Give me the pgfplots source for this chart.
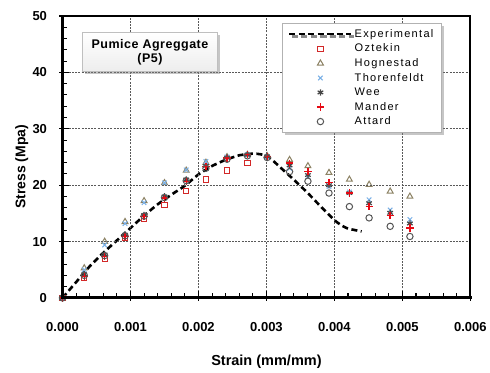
\documentclass[border=0pt]{standalone}
\usepackage{fontspec}
\setmainfont{Liberation Sans}
\usepackage{pgfplots}
\pgfplotsset{compat=1.18}
\usetikzlibrary{shadows}
\definecolor{ozred}{RGB}{210,40,40}
\definecolor{hogcol}{RGB}{140,130,100}
\definecolor{thocol}{RGB}{120,175,230}
\definecolor{weecol}{RGB}{70,70,70}
\definecolor{mancol}{RGB}{230,10,20}
\definecolor{attcol}{RGB}{85,85,85}
\tikzset{gridln/.style={black!65, line width=1pt, dash pattern=on 2pt off 1.2pt},
  tickln/.style={black, line width=1.1pt}}
\begin{document}
\begin{tikzpicture}
\begin{axis}[
  scale only axis, width=408pt, height=282pt,
  xmin=0, xmax=0.006, ymin=0, ymax=50,
  clip mode=individual,
  axis on top,
  xtick={0,0.001,0.002,0.003,0.004,0.005,0.006},
  xticklabels={0.000,0.001,0.002,0.003,0.004,0.005,0.006},
  ytick={0,10,20,30,40,50},
  yticklabels={0,10,20,30,40,50},
  scaled x ticks=false,
  xtick style={draw=none}, ytick style={draw=none},
  ticklabel style={font=\bfseries\fontsize{13}{13}\selectfont},
  xticklabel style={yshift=-21pt}, yticklabel style={xshift=-12pt},
  axis line style={line width=2pt},
  xlabel={Strain (mm/mm)},
  xlabel style={at={(axis description cs:0.5,-0.227)}, anchor=center, font=\bfseries\fontsize{14.5}{15}\selectfont},
  ylabel={Stress (Mpa)},
  ylabel style={at={(axis description cs:-0.1,0.465)}, anchor=center, font=\bfseries\fontsize{14}{15}\selectfont},
  legend image code/.code={\draw[mark repeat=2,mark phase=2,#1] plot coordinates {(0pt,0pt) (31pt,0pt) (62pt,0pt)};},
  legend style={at={(0.538,0.975)}, anchor=north west, draw=gray!60, fill=white,
    drop shadow={shadow xshift=2.5pt, shadow yshift=-2.5pt, opacity=0.45},
    font=\fontsize{11}{12}\selectfont\addfontfeatures{LetterSpace=12}, row sep=1.2pt, inner xsep=6pt, inner ysep=4pt},
  legend cell align=left,
]
\addplot[black, line width=2.6pt, dash pattern=on 6pt off 3.5pt, smooth, tension=0.3] coordinates {
 (0,0) (0.0002,2.8) (0.0004,5.6) (0.0006,8.0) (0.0008,10.2) (0.001,12.4) (0.0012,14.6)
 (0.0014,16.6) (0.0016,18.3) (0.0018,19.9) (0.002,21.9) (0.0022,23.4) (0.0024,24.5)
 (0.0026,25.3) (0.0028,25.6) (0.0029,25.5) (0.003,25.2) (0.0031,24.3) (0.0032,23.2)
 (0.0034,21.0) (0.0036,18.7) (0.0038,16.2) (0.004,13.8) (0.0041,12.9) (0.0042,12.3) (0.0044,11.8)};
\addlegendentry{Experimental}
\addplot[only marks, mark=square, mark size=2.6pt, ozred, line width=1pt] coordinates {
 (0,0) (0.00032,3.5) (0.00062,7.0) (0.00092,10.7) (0.0012,14.0) (0.0015,16.5)
 (0.00182,19.0) (0.00211,21.0) (0.00242,22.6) (0.00272,23.9)};
\addlegendentry{Oztekin}
\addplot[only marks, mark=triangle, mark size=3.4pt, hogcol, line width=1pt] coordinates {
 (0,0) (0.00032,5.3) (0.00062,10.0) (0.00092,13.5) (0.0012,17.2) (0.0015,20.4)
 (0.00182,22.6) (0.00211,24.0) (0.00242,25.0) (0.00272,25.4) (0.00301,25.2)
 (0.00334,24.5) (0.00361,23.4) (0.00392,22.2) (0.00422,21.0) (0.00451,20.1)
 (0.00482,18.9) (0.00511,18.0)};
\addlegendentry{Hognestad}
\addplot[only marks, mark=x, mark size=3.2pt, thocol, line width=1pt] coordinates {
 (0,0) (0.00032,5.0) (0.00062,9.4) (0.00092,13.2) (0.0012,16.9) (0.0015,20.4)
 (0.00182,22.7) (0.00211,24.2) (0.00242,25.0) (0.00272,25.4) (0.00301,25.0)
 (0.00334,23.0) (0.00361,21.5) (0.00392,19.8) (0.00422,18.8) (0.00451,17.4)
 (0.00482,15.6) (0.00511,13.9)};
\addlegendentry{Thorenfeldt}
\addplot[only marks, mark=asterisk, mark size=3.2pt, weecol, line width=1.2pt] coordinates {
 (0,0) (0.00032,4.2) (0.00062,7.7) (0.00092,11.2) (0.0012,14.7) (0.0015,18.0)
 (0.00182,21.0) (0.00211,23.4) (0.00242,24.9) (0.00272,25.4) (0.00301,25.1)
 (0.00334,23.5) (0.00361,21.8) (0.00392,20.0) (0.00422,18.6) (0.00451,16.8)
 (0.00482,15.1) (0.00511,13.2)};
\addlegendentry{Wee}
\addplot[only marks, mark=+, mark size=3.6pt, mancol, line width=1.4pt] coordinates {
 (0,0) (0.00032,3.8) (0.00062,7.3) (0.00092,10.9) (0.0012,14.4) (0.0015,17.7)
 (0.00182,20.7) (0.00211,23.3) (0.00242,24.8) (0.00272,25.4) (0.00301,25.1)
 (0.00334,23.9) (0.00361,22.4) (0.00392,20.5) (0.00422,18.6) (0.00451,16.2)
 (0.00482,14.6) (0.00511,12.4)};
\addlegendentry{Mander}
\addplot[only marks, mark=o, mark size=3.2pt, attcol, line width=1pt] coordinates {
 (0,0) (0.00032,4.0) (0.00062,7.5) (0.00092,11.0) (0.0012,14.5) (0.0015,17.8)
 (0.00182,20.8) (0.00211,23.0) (0.00242,24.6) (0.00272,25.2) (0.00301,24.9)
 (0.00334,22.4) (0.00361,20.7) (0.00392,18.6) (0.00422,16.2) (0.00451,14.2)
 (0.00482,12.7) (0.00511,10.9)};
\addlegendentry{Attard}
\pgfplotsinvokeforeach{0.166667,0.333333,0.5,0.666667,0.833333}{\draw[gridln] (rel axis cs:#1,0) -- (rel axis cs:#1,1);}
\pgfplotsinvokeforeach{0.2,0.4,0.6,0.8}{\draw[gridln] (rel axis cs:0,#1) -- (rel axis cs:1,#1);}
\pgfplotsinvokeforeach{0.033333,0.066667,0.1,0.133333,0.2,0.233333,0.266667,0.3,0.366667,0.4,0.433333,0.466667,0.533333,0.566667,0.6,0.633333,0.7,0.733333,0.766667,0.8,0.866667,0.9,0.933333,0.966667}{\draw[tickln] (rel axis cs:#1,0) -- ++(0,5pt);}
\pgfplotsinvokeforeach{0.166667,0.333333,0.5,0.666667,0.833333,1}{\draw[tickln] (rel axis cs:#1,0) -- ++(0,7pt) (rel axis cs:#1,0) -- ++(0,-3pt);}
\pgfplotsinvokeforeach{0.04,0.08,0.12,0.16,0.24,0.28,0.32,0.36,0.44,0.48,0.52,0.56,0.64,0.68,0.72,0.76,0.84,0.88,0.92,0.96}{\draw[tickln] (rel axis cs:0,#1) -- ++(5pt,0);}
\pgfplotsinvokeforeach{0.2,0.4,0.6,0.8,1}{\draw[tickln] (rel axis cs:0,#1) -- ++(7pt,0) (rel axis cs:0,#1) -- ++(-3pt,0);}
\draw[line width=3pt, line cap=rect] (rel axis cs:0,1) -- (rel axis cs:0,0) -- (rel axis cs:1,0);
\node[draw=gray!50, top color=white, bottom color=gray!14,
  drop shadow={shadow xshift=2.5pt, shadow yshift=-2.5pt, opacity=0.45},
  align=center, minimum width=135pt, minimum height=39pt, inner sep=2pt,
  font=\bfseries\fontsize{12.5}{14}\selectfont\addfontfeatures{LetterSpace=4}] at (axis cs:0.001287,43.6) {Pumice Agreggate\\(P5)};
\end{axis}
\path (-62.5pt,-75pt) rectangle (427.5pt,298pt);
\end{tikzpicture}
\end{document}
